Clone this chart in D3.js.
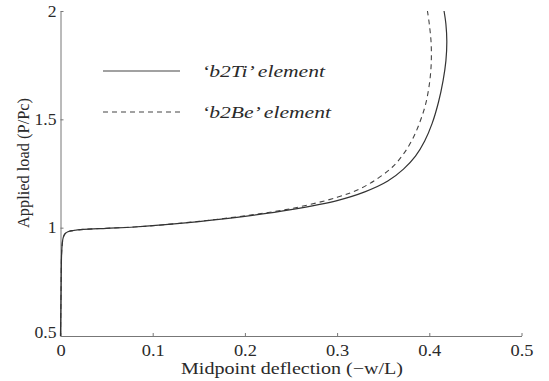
<!DOCTYPE html>
<html>
<head>
<meta charset="utf-8">
<script src="https://cdn.jsdelivr.net/npm/d3@7"></script>
<style>
  body { margin: 0; background: #fff; }
  svg { font-family: "Liberation Serif", "Times New Roman", Times, serif; }
</style>
</head>
<body>
<div id="chart"></div>
<script>
// values: midpoint deflection (-w/L) vs applied load (P/Pc)
const b2TiX = [0, 0.0006, 0.0012, 0.002, 0.003, 0.005, 0.008, 0.014, 0.025, 0.05, 0.08, 0.1, 0.15, 0.2, 0.25, 0.3, 0.33, 0.355, 0.372, 0.385, 0.395, 0.403, 0.41, 0.415, 0.418, 0.419, 0.418, 0.416];
const b2TiY = [0.5, 0.7, 0.88, 0.93, 0.955, 0.972, 0.981, 0.987, 0.992, 0.997, 1.003, 1.009, 1.028, 1.052, 1.083, 1.125, 1.165, 1.215, 1.27, 1.33, 1.4, 1.48, 1.58, 1.68, 1.77, 1.86, 1.94, 2.0];

const b2BeX = [0, 0.0006, 0.0012, 0.002, 0.003, 0.005, 0.008, 0.014, 0.025, 0.05, 0.08, 0.1, 0.15, 0.2, 0.25, 0.3, 0.325, 0.345, 0.36, 0.372, 0.382, 0.39, 0.396, 0.4, 0.402, 0.402, 0.4, 0.398];
const b2BeY = [0.5, 0.7, 0.88, 0.93, 0.955, 0.972, 0.981, 0.987, 0.992, 0.997, 1.003, 1.009, 1.029, 1.055, 1.088, 1.14, 1.18, 1.23, 1.28, 1.34, 1.41, 1.49, 1.57, 1.66, 1.75, 1.85, 1.94, 2.0];

const xTicks = [0, 0.1, 0.2, 0.3, 0.4, 0.5];
const yTicks = [0.5, 1, 1.5, 2];
const seriesNames = ["\u2018b2Ti\u2019 element", "\u2018b2Be\u2019 element"];

const W = 549, H = 381;
const margin = {top: 11, right: 27.5, bottom: 45, left: 60.5};
const width = W - margin.left - margin.right;
const height = H - margin.top - margin.bottom;
const fontFamily = '"Liberation Serif", "Times New Roman", Times, serif';

const svg = d3.select('#chart').append('svg')
  .attr('width', W)
  .attr('height', H);

const x = d3.scaleLinear().domain([0, 0.5]).range([0, width]);
const y = d3.scaleLinear().domain([0.5, 2]).range([height, 0]);

const g = svg.append('g').attr('transform', `translate(${margin.left},${margin.top})`);

const axisColor = '#777';
const textColor = '#2a2a2a';

// the scanned type is a little wider than the font, so stretch text sideways
function stretch(sel, sx) {
  sel.each(function() {
    const t = d3.select(this);
    const tx = +t.attr('x') || 0, ty = +t.attr('y') || 0;
    t.attr('x', 0).attr('y', 0)
      .attr('transform', `translate(${tx},${ty}) scale(${sx},1)`);
  });
}

// x axis, ticks pointing inward
const xAxis = g.append('g')
  .attr('transform', `translate(0,${height})`)
  .call(d3.axisBottom(x).tickValues(xTicks).tickSizeInner(-3).tickSizeOuter(0).tickPadding(9).tickFormat(d3.format('')))
  .attr('font-family', fontFamily);
xAxis.select('.domain').attr('stroke', axisColor);
xAxis.selectAll('.tick line').attr('stroke', axisColor);
xAxis.selectAll('.tick text').attr('fill', textColor).style('font-size', '16px');
stretch(xAxis.selectAll('.tick text'), 1.15);

const yAxis = g.append('g')
  .call(d3.axisLeft(y).tickValues(yTicks).tickSizeInner(-3).tickSizeOuter(0).tickPadding(4).tickFormat(d3.format('')))
  .attr('font-family', fontFamily);
yAxis.select('.domain').attr('stroke', axisColor);
yAxis.selectAll('.tick line').attr('stroke', axisColor);
yAxis.selectAll('.tick text').attr('fill', textColor).style('font-size', '16px');
yAxis.selectAll('.tick text').filter(d => d === 0.5).attr('dy', '0.1em');
stretch(yAxis.selectAll('.tick text'), 1.1);

// axis titles
svg.append('text')
  .attr('x', 181)
  .attr('y', 374)
  .attr('fill', textColor)
  .attr('textLength', 222)
  .attr('lengthAdjust', 'spacingAndGlyphs')
  .style('font-size', '17px')
  .text('Midpoint deflection (\u2212w/L)');

svg.append('text')
  .attr('transform', 'translate(29,228) rotate(-90)')
  .attr('fill', textColor)
  .attr('textLength', 130)
  .attr('lengthAdjust', 'spacingAndGlyphs')
  .style('font-size', '17.5px')
  .text('Applied load (P/Pc)');

// curves
const line = d3.line()
  .x(d => x(d[0]))
  .y(d => y(d[1]))
  .curve(d3.curveCatmullRom.alpha(0.5));

const b2Ti = d3.zip(b2TiX, b2TiY);
const b2Be = d3.zip(b2BeX, b2BeY);

g.append('path')
  .datum(b2Be)
  .attr('d', line)
  .attr('fill', 'none')
  .attr('stroke', '#444')
  .attr('stroke-width', 1.1)
  .attr('stroke-dasharray', '5,4');

g.append('path')
  .datum(b2Ti)
  .attr('d', line)
  .attr('fill', 'none')
  .attr('stroke', '#333')
  .attr('stroke-width', 1.2);

// legend
const legend = svg.append('g');
const legendRows = [
  {name: seriesNames[0], y: 71, len: 123, dash: null},
  {name: seriesNames[1], y: 112, len: 129, dash: '5,4'},
];
legendRows.forEach(r => {
  legend.append('line')
    .attr('x1', 103).attr('x2', 180)
    .attr('y1', r.y).attr('y2', r.y)
    .attr('stroke', '#444')
    .attr('stroke-width', 1.1)
    .attr('stroke-dasharray', r.dash);
  legend.append('text')
    .attr('x', 202)
    .attr('y', r.y)
    .attr('dy', '0.35em')
    .attr('fill', textColor)
    .attr('textLength', r.len)
    .attr('lengthAdjust', 'spacingAndGlyphs')
    .style('font-size', '16px')
    .style('font-style', 'italic')
    .text(r.name);
});
</script>
</body>
</html>
